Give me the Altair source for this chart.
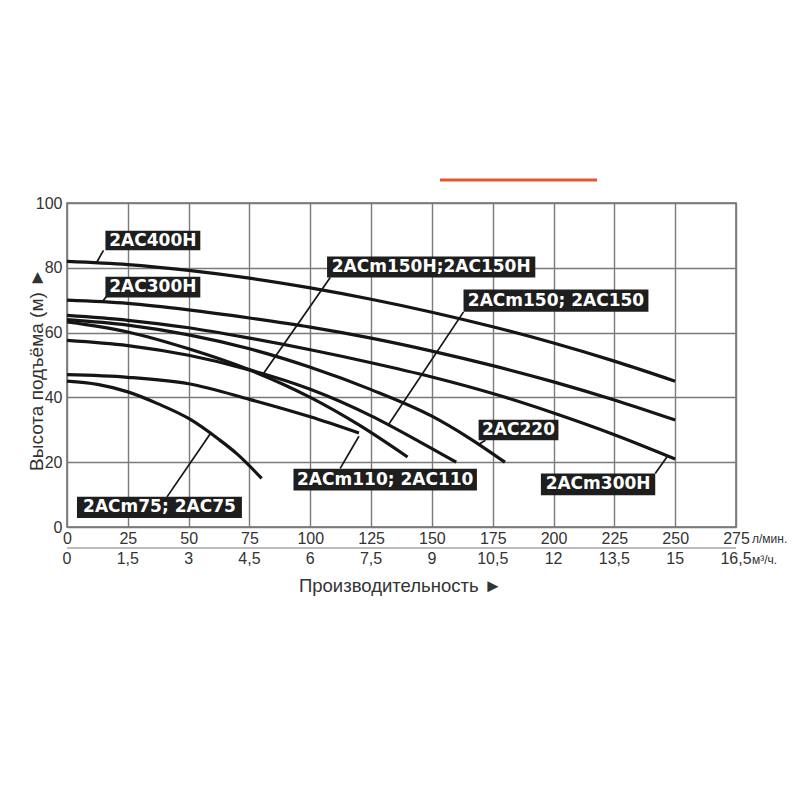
import altair as alt
import pandas as pd

# Pump Q-H curves: flow in l/min, head in metres
flow_400h = [0, 25, 50, 75, 100, 125, 150, 175, 200, 225, 250]
head_400h = [82, 81, 79.2, 76.8, 73.8, 70.3, 66.3, 61.8, 56.8, 51.2, 45]

flow_300h = [0, 25, 50, 75, 100, 125, 150, 175, 200, 225, 250]
head_300h = [70, 69, 67, 64.5, 61.7, 58.3, 54.3, 49.8, 44.8, 39.2, 33]

flow_m300h = [0, 25, 50, 75, 100, 125, 150, 175, 200, 225, 250]
head_m300h = [65.3, 63.8, 61.5, 58.3, 54.7, 50.7, 46.3, 41.2, 35.2, 28.5, 21]

flow_220 = [0, 25, 50, 75, 100, 125, 150, 165, 180]
head_220 = [64, 62.3, 59.3, 55, 49.3, 42.4, 34.2, 27.6, 20]

flow_150h = [0, 25, 50, 75, 100, 120, 140]
head_150h = [63.3, 60.2, 55, 48.5, 40, 31.5, 21.6]

flow_150 = [0, 25, 50, 75, 100, 125, 145, 160]
head_150 = [57.6, 56, 53, 48.5, 42.5, 34.3, 26.3, 20]

flow_110 = [0, 25, 50, 75, 100, 120]
head_110 = [47, 46.2, 44.2, 39.4, 34, 29]

flow_75 = [0, 12.5, 25, 37.5, 50, 62.5, 70, 80]
head_75 = [45, 44, 41.7, 38, 33.5, 27, 22.5, 15]

curves = {
    "2AC400H": (flow_400h, head_400h),
    "2AC300H": (flow_300h, head_300h),
    "2ACm300H": (flow_m300h, head_m300h),
    "2AC220": (flow_220, head_220),
    "2ACm150H;2AC150H": (flow_150h, head_150h),
    "2ACm150; 2AC150": (flow_150, head_150),
    "2ACm110; 2AC110": (flow_110, head_110),
    "2ACm75; 2AC75": (flow_75, head_75),
}

# Axis tick values and the second (m3/h) scale labels
lpm_ticks = [0, 25, 50, 75, 100, 125, 150, 175, 200, 225, 250, 275]
m3h_labels = ["0", "1,5", "3", "4,5", "6", "7,5", "9", "10,5", "12", "13,5", "15", "16,5"]
head_ticks = [0, 20, 40, 60, 80, 100]

# Name tags: box extents and leader lines in data units
tag_names = ["2AC400H", "2AC300H", "2ACm150H;2AC150H", "2ACm150; 2AC150",
             "2AC220", "2ACm110; 2AC110", "2ACm300H", "2ACm75; 2AC75"]
tag_x1 = [15.8, 15.8, 106.9, 163.0, 169.2, 93.1, 194.8, 4.1]
tag_x2 = [54.8, 54.8, 192.5, 239.0, 202.0, 168.5, 241.8, 71.9]
tag_y1 = [85.4, 70.8, 77.0, 66.4, 26.8, 11.3, 9.8, 2.8]
tag_y2 = [91.4, 77.2, 83.5, 73.3, 33.1, 18.0, 16.5, 9.3]
lead_x1 = [15.0, 17.1, 108.2, 163.0, 172.0, 112.3, 241.8, 41.1]
lead_y1 = [85.4, 72.0, 77.0, 66.4, 26.8, 18.1, 16.5, 9.3]
lead_x2 = [12.3, 14.4, 80.0, 132.0, 169.0, 120.0, 246.6, 58.9]
lead_y2 = [81.8, 69.4, 46.5, 31.4, 25.4, 28.0, 21.6, 28.8]

rows = []
for name, (fl, hd) in curves.items():
    for q, h in zip(fl, hd):
        rows.append({"curve": name, "flow": q, "head": h})
curve_df = pd.DataFrame(rows)

tags_df = pd.DataFrame({
    "name": tag_names,
    "x1": tag_x1, "x2": tag_x2, "y1": tag_y1, "y2": tag_y2,
})
tags_df["cx"] = (tags_df["x1"] + tags_df["x2"]) / 2
tags_df["cy"] = (tags_df["y1"] + tags_df["y2"]) / 2

leads_df = pd.DataFrame({"x1": lead_x1, "y1": lead_y1, "x2": lead_x2, "y2": lead_y2})
m3h_df = pd.DataFrame({"lpm": lpm_ticks, "label": m3h_labels})

AXIS_FONT = "Liberation Sans"
TEXT_COLOR = "#333333"

x_scale = alt.Scale(domain=[0, 275], nice=False, zero=True)
y_scale = alt.Scale(domain=[0, 100], nice=False)

x_axis = alt.Axis(
    values=lpm_ticks, grid=True, domain=False, ticks=False,
    labelFontSize=16, labelFont=AXIS_FONT, labelColor=TEXT_COLOR,
    labelPadding=3, labelFlush=False,
    title="Производительность ►", titleFont=AXIS_FONT, titleFontSize=18.5,
    titleFontWeight="normal", titleColor=TEXT_COLOR,
    titleX=333, titleY=58, titleAlign="center", titleBaseline="middle",
)
y_axis = alt.Axis(
    values=head_ticks, grid=True, domain=False, ticks=False,
    labelFontSize=16, labelFont=AXIS_FONT, labelColor=TEXT_COLOR,
    labelPadding=5, labelFlush=False,
    title="Высота подъёма (м) ►", titleFont=AXIS_FONT, titleFontSize=19,
    titleFontWeight="normal", titleColor=TEXT_COLOR,
    titleX=-31, titleY=166, titleAngle=270, titleAlign="center", titleBaseline="middle",
)

lines = alt.Chart(curve_df).mark_line(
    interpolate="monotone", strokeWidth=3.2, color="#151515"
).encode(
    x=alt.X("flow:Q", scale=x_scale, axis=x_axis),
    y=alt.Y("head:Q", scale=y_scale, axis=y_axis),
    detail="curve:N",
)

leaders = alt.Chart(leads_df).mark_rule(strokeWidth=1.7, color="#151515").encode(
    x="x1:Q", y="y1:Q", x2="x2:Q", y2="y2:Q"
)

boxes = alt.Chart(tags_df).mark_rect(color="#1e1e1e").encode(
    x="x1:Q", x2="x2:Q", y="y1:Q", y2="y2:Q"
)

tag_text = alt.Chart(tags_df).mark_text(
    font="DejaVu Sans", fontWeight="bold", fontSize=17, color="white",
    align="center", baseline="middle",
).encode(x="cx:Q", y="cy:Q", text="name:N")

# Second flow scale in m3/h under the l/min labels
m3h_text = alt.Chart(m3h_df).mark_text(
    font=AXIS_FONT, fontSize=16, color=TEXT_COLOR, align="center", baseline="middle"
).encode(x="lpm:Q", y=alt.value(356), text="label:N")

separator = alt.Chart().mark_rule(color="#7a7a7a", strokeWidth=1.2).encode(
    x=alt.X(datum=0), x2=alt.X2(datum=275), y=alt.value(345)
)

unit_lpm = alt.Chart().mark_text(
    font=AXIS_FONT, fontSize=12, color=TEXT_COLOR, align="left", baseline="middle", dx=16
).encode(x=alt.X(datum=275), y=alt.value(336), text=alt.value("л/мин."))

unit_m3h = alt.Chart().mark_text(
    font=AXIS_FONT, fontSize=12, color=TEXT_COLOR, align="left", baseline="middle", dx=16
).encode(x=alt.X(datum=275), y=alt.value(357), text=alt.value("м³/ч."))

accent = alt.Chart().mark_rule(color="#e8542c", strokeWidth=3).encode(
    x=alt.value(373), x2=alt.value(530), y=alt.value(-23)
)

chart = alt.layer(
    lines, leaders, boxes, tag_text, m3h_text, separator, unit_lpm, unit_m3h, accent
).properties(
    width=669, height=324,
    autosize=alt.AutoSizeParams(type="none"),
    padding={"left": 67, "top": 203, "right": 64, "bottom": 273},
    background="white",
).configure_view(
    stroke="#6b6b6b", strokeWidth=1.5
).configure_axis(
    gridColor="#7a7a7a", gridWidth=1.4, gridOpacity=1
)

chart.save("out.html", embed_options={"renderer": "svg", "actions": False})
